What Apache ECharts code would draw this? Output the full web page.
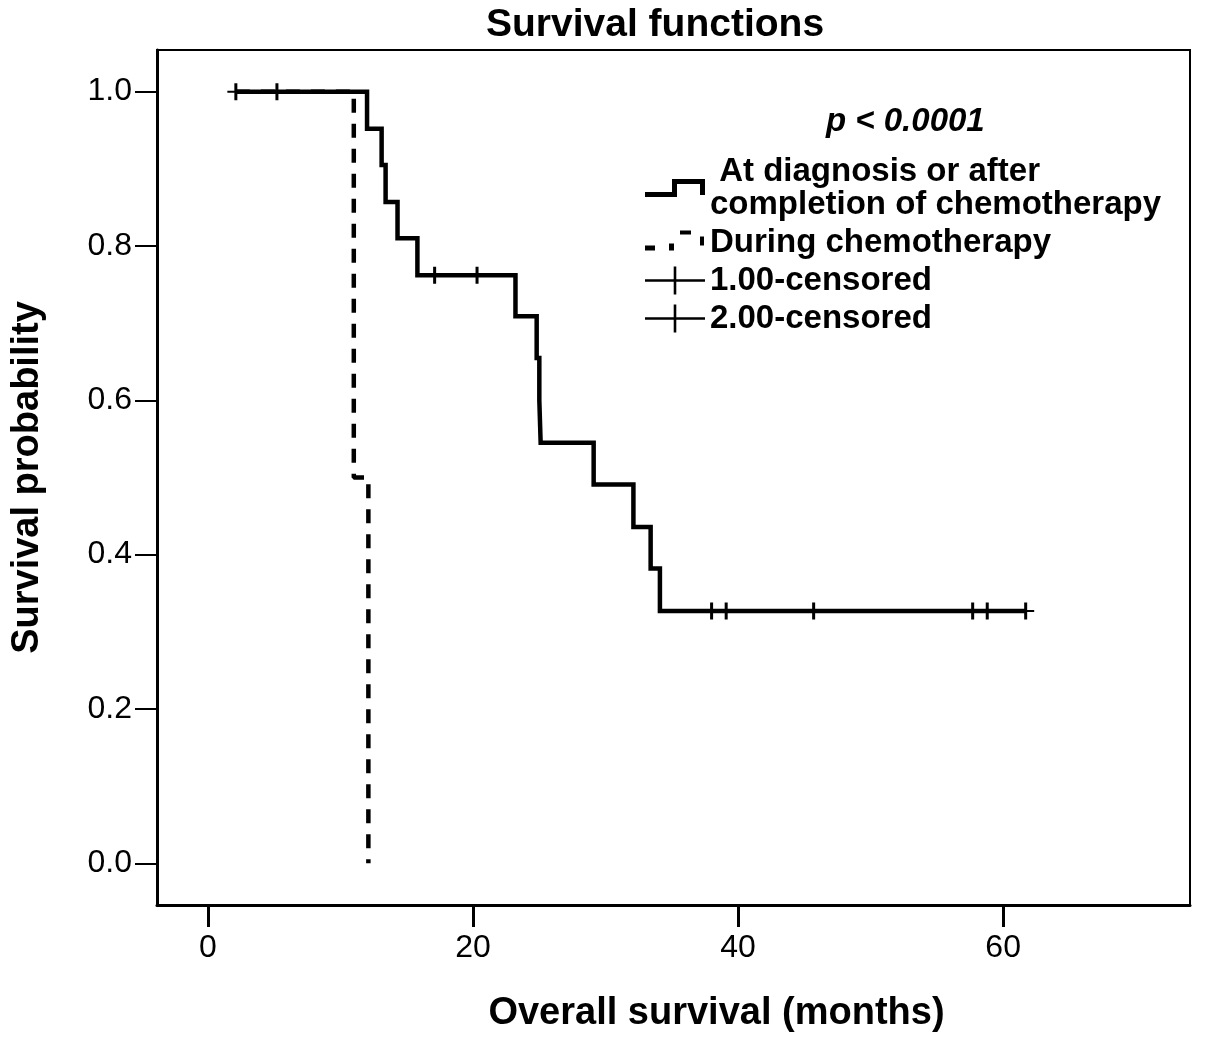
<!DOCTYPE html>
<html>
<head>
<meta charset="utf-8">
<script src="https://cdn.jsdelivr.net/npm/echarts@6/dist/echarts.min.js"></script>
<style>html,body{margin:0;padding:0;background:#fff}#c{width:1205px;height:1044px}</style>
</head>
<body>
<div id="c"></div>
<script>
// ---- data ----
const groupNames = [' At diagnosis or after\ncompletion of chemotherapy', 'During chemotherapy'];
const censorNames = ['1.00-censored', '2.00-censored'];
const solidTimes = [2.1, 12.0, 13.1, 13.4, 14.3, 15.8, 23.2, 24.8, 25.0, 25.1, 29.1, 32.1, 33.4, 34.1, 61.7];
const solidSurv  = [1.0, 0.952, 0.905, 0.857, 0.810, 0.762, 0.709, 0.655, 0.600, 0.545, 0.491, 0.436, 0.382, 0.327, 0.327];
const dashTimes  = [2.1, 11.0, 12.1];
const dashSurv   = [1.0, 0.5, 0.0];
const censor1Times = [2.1, 5.2, 17.1, 20.3, 38.0, 39.1, 45.7, 57.7, 58.8, 61.7];
const censor1Surv  = [1.0, 1.0, 0.762, 0.762, 0.327, 0.327, 0.327, 0.327, 0.327, 0.327];
const censor2Times = [];
const censor2Surv  = [];
const xTicks = [0, 20, 40, 60];
const yTicks = [0.0, 0.2, 0.4, 0.6, 0.8, 1.0];
const titleText = 'Survival functions';
const pText = 'p < 0.0001';
const xName = 'Overall survival (months)';
const yName = 'Survival probability';

const zip = (a, b) => a.map((v, i) => [v, b[i]]);
const FONT = '"Liberation Sans", Arial, sans-serif';
const tiny = ' M0,0 L0.01,0 L0,0.01 Z M60,28 L59.99,28 L60,27.99 Z';
const solidIcon = 'path://M0,18 L27,18 L27,5 L60,5 L60,21 L55,21 L55,10 L32,10 L32,23 L0,23 Z' + tiny;
const dashIcon = 'path://M0,17 L10,17 L10,22 L0,22 Z M24,15 L29,15 L29,22 L24,22 Z M35,2 L46,2 L46,6 L35,6 Z M55,8 L59,8 L59,17 L55,17 Z' + tiny;
const crossIcon = 'path://M0,12.8 L60,12.8 L60,15.2 L0,15.2 Z M28.7,0 L31.3,0 L31.3,28 L28.7,28 Z';
const censorSym = 'path://M7,0 L10,0 L10,17 L7,17 Z M0,7.5 L17,7.5 L17,9.5 L0,9.5 Z';
const iconStyle = { color: '#000', borderWidth: 0, opacity: 1 };

const chart = echarts.init(document.getElementById('c'));
chart.setOption({
  animation: false,
  backgroundColor: '#fff',
  title: [
    { text: titleText, left: 486, top: 6, padding: 0,
      textStyle: { fontFamily: FONT, fontSize: 39, fontWeight: 'bold', color: '#000' } },
    { text: pText, left: 826, top: 105, padding: 0,
      textStyle: { fontFamily: FONT, fontSize: 33, fontWeight: 'bold', fontStyle: 'italic', color: '#000' } }
  ],
  legend: {
    orient: 'vertical', left: 645, top: 155, padding: 0,
    itemWidth: 60, itemHeight: 28, itemGap: 5,
    symbolKeepAspect: false, selectedMode: false,
    itemStyle: { borderWidth: 0, opacity: 1 },
    textStyle: { fontFamily: FONT, fontSize: 33, fontWeight: 'bold', color: '#000', lineHeight: 33 },
    data: [
      { name: groupNames[0], icon: solidIcon, itemStyle: iconStyle },
      { name: groupNames[1], icon: dashIcon, itemStyle: iconStyle },
      { name: censorNames[0], icon: crossIcon, itemStyle: iconStyle },
      { name: censorNames[1], icon: crossIcon, itemStyle: iconStyle }
    ]
  },
  grid: { left: 157, right: 15, top: 50, bottom: 139, show: true, borderColor: '#000', borderWidth: 2, backgroundColor: 'transparent' },
  xAxis: {
    type: 'value', min: -3.85, max: 74.1,
    name: xName, nameLocation: 'middle', nameGap: 90,
    nameTextStyle: { fontFamily: FONT, fontSize: 38, fontWeight: 'bold', color: '#000', padding: [0, 0, 0, 86] },
    axisLine: { show: true, onZero: false, lineStyle: { color: '#000', width: 3 } },
    axisTick: { show: true, length: 22, lineStyle: { color: '#000', width: 3 }, customValues: xTicks },
    axisLabel: { margin: 27, fontFamily: FONT, fontSize: 32, color: '#000', customValues: xTicks },
    splitLine: { show: false }
  },
  yAxis: {
    type: 'value', min: -0.054, max: 1.054,
    name: yName, nameLocation: 'middle', nameGap: 110, nameRotate: 90,
    nameTextStyle: { fontFamily: FONT, fontSize: 38, fontWeight: 'bold', color: '#000' },
    axisLine: { show: true, onZero: false, lineStyle: { color: '#000', width: 3 } },
    axisTick: { show: true, length: 22, lineStyle: { color: '#000', width: 2 }, customValues: yTicks },
    axisLabel: { margin: 25, fontFamily: FONT, fontSize: 32, color: '#000', customValues: yTicks,
      formatter: v => v.toFixed(1) },
    splitLine: { show: false }
  },
  series: [
    { type: 'line', name: groupNames[0], data: zip(solidTimes, solidSurv), step: 'end',
      symbol: 'none', z: 3, itemStyle: { color: '#000' },
      lineStyle: { color: '#000', width: 4.5, join: 'miter' } },
    { type: 'line', name: groupNames[1], data: zip(dashTimes, dashSurv), step: 'end',
      symbol: 'none', z: 3, itemStyle: { color: '#000' },
      lineStyle: { color: '#000', width: 4.5, type: [14, 11], cap: 'butt' } },
    { type: 'scatter', name: censorNames[0], data: zip(censor1Times, censor1Surv),
      symbol: censorSym, symbolSize: 17, z: 4, itemStyle: { color: '#000', opacity: 1 } },
    { type: 'scatter', name: censorNames[1], data: zip(censor2Times, censor2Surv),
      symbol: censorSym, symbolSize: 17, z: 4, itemStyle: { color: '#000', opacity: 1 } }
  ]
});
</script>
</body>
</html>
